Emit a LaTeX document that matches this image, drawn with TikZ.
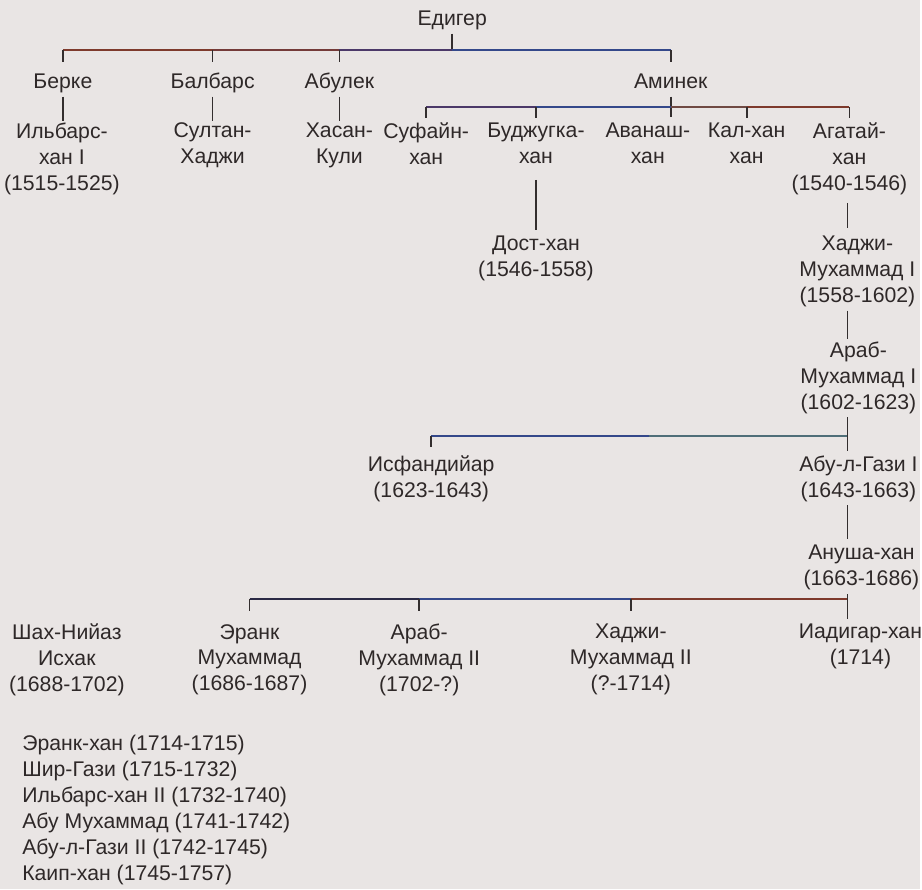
\documentclass[tikz,border=0pt]{standalone}
\usepackage{fontspec}
\setmainfont{Liberation Sans}
\usepackage{tikz}

\definecolor{paper}{HTML}{E9E5E4}
\definecolor{ink}{HTML}{2E2828}
\definecolor{lnGrey}{HTML}{332E2E}
\definecolor{lnBrown}{HTML}{7E3A2C}
\definecolor{lnPurple}{HTML}{4B3868}
\definecolor{lnBlue}{HTML}{34488A}
\definecolor{lnTeal}{HTML}{4F6E78}
\definecolor{lnNavy}{HTML}{2B2A45}

\tikzset{
  person/.style={align=center, inner sep=0pt, anchor=north, text=ink,
    execute at begin node=\strut, execute at end node=\strut},
  kin/.style={draw=#1, line width=1pt},
  kin/.default=lnGrey,
  tick/.style={kin, shorten >=#1},
  tick/.default=0.16cm
}

\begin{document}
\begin{tikzpicture}[font=\fontsize{12.1}{14.8}\selectfont]
        % paper
        \fill[paper] (0,0) rectangle (18.44,-17.82);

        % Edigei and his sons
        \node[person] (edg) at (9.06,-0.14) {Едигер};
        \node[person] (berke) at (1.26,-1.40) {Берке};
        \node[person] (balb) at (4.26,-1.40) {Балбарс};
        \node[person] (abul) at (6.80,-1.40) {Абулек};
        \node[person] (amin) at (13.44,-1.40) {Аминек};

        % grandsons
        \node[person] (ilb) at (1.24,-2.46) {Ильбарс-\\хан I\\(1515-1525)};
        \node[person] (sult) at (4.26,-2.46) {Султан-\\Хаджи};
        \node[person] (hasan) at (6.80,-2.46) {Хасан-\\Кули};
        \node[person] (suf) at (8.54,-2.46) {Суфайн-\\хан};
        \node[person] (budz) at (10.74,-2.46) {Буджугка-\\хан};
        \node[person] (avan) at (12.98,-2.46) {Аванаш-\\хан};
        \node[person] (kal) at (14.96,-2.46) {Кал-хан\\хан};
        \node[person] (agat) at (17.02,-2.46) {Агатай-\\хан\\(1540-1546)};

        % khans of Khiva
        \node[person] (dost) at (10.74,-4.72) {Дост-хан\\(1546-1558)};
        \node[person] (hadj1) at (17.18,-4.72) {Хаджи-\\Мухаммад I\\(1558-1602)};
        \node[person] (arab1) at (17.20,-6.84) {Араб-\\Мухаммад I\\(1602-1623)};
        \node[person] (isf) at (8.64,-9.12) {Исфандийар\\(1623-1643)};
        \node[person] (abul1) at (17.20,-9.12) {Абу-л-Гази I\\(1643-1663)};
        \node[person] (anush) at (17.26,-10.92) {Ануша-хан\\(1663-1686)};

        % last generation
        \node[person] (shah) at (1.34,-12.50) {Шах-Нийаз\\Исхак\\(1688-1702)};
        \node[person] (eranc) at (5.00,-12.50) {Эранк\\Мухаммад\\(1686-1687)};
        \node[person] (arab2) at (8.40,-12.50) {Араб-\\Мухаммад II\\(1702-?)};
        \node[person] (hadj2) at (12.64,-12.50) {Хаджи-\\Мухаммад II\\(?-1714)};
        \node[person] (iad) at (17.24,-12.50) {Иадигар-хан\\(1714)};

        % later khans
        \node[person, anchor=north west, align=left] (later) at (0.44,-14.72)
          {Эранк-хан (1714-1715)\\Шир-Гази (1715-1732)\\Ильбарс-хан II (1732-1740)\\Абу Мухаммад (1741-1742)\\Абу-л-Гази II (1742-1745)\\Каип-хан (1745-1757)};

        % bus levels
        \coordinate (bus1) at (0,-1.00);
        \coordinate (bus2) at (0,-2.14);
        \coordinate (bus3) at (0,-8.74);
        \coordinate (bus4) at (0,-12.00);
        \coordinate (axis) at (16.98,0);
        \coordinate (b3mid) at (13.00,-8.74);

        % Edigei -> sons
        \draw[kin] (edg.south) -- (edg.south |- bus1);
        \draw[kin=lnBrown] (berke.north |- bus1) -- (balb.north |- bus1);
        \draw[kin=lnBrown!80!lnPurple] (balb.north |- bus1) -- (abul.north |- bus1);
        \draw[kin=lnPurple] (abul.north |- bus1) -- (edg.south |- bus1);
        \draw[kin=lnBlue] (edg.south |- bus1) -- (amin.north |- bus1);
        \foreach \n in {berke,balb,abul,amin}
          \draw[tick] (\n.north |- bus1) -- (\n.north);

        % sons -> grandsons
        \foreach \a/\b in {berke/ilb,balb/sult,abul/hasan}
          \draw[kin, shorten >=0.04cm] (\a.south) -- (\a.south |- \b.north);

        % Aminek -> sons
        \draw[kin, shorten >=0.12cm] (amin.south) -- (amin.south |- avan.north);
        \draw[kin=lnPurple] (suf.north |- bus2) -- (budz.north |- bus2);
        \draw[kin=lnBlue] (budz.north |- bus2) -- (amin.south |- bus2);
        \draw[kin=lnBrown!70!lnTeal] (amin.south |- bus2) -- (kal.north |- bus2);
        \draw[kin=lnBrown] (kal.north |- bus2) -- (agat.north |- bus2);
        \foreach \n in {suf,budz,kal,agat}
          \draw[tick=0.1cm] (\n.north |- bus2) -- (\n.north);
        \draw[kin, shorten <=0.16cm, shorten >=0.12cm] (budz.south) -- (budz.south |- dost.north);

        % line of Agatai
        \draw[kin, shorten <=0.08cm, shorten >=0.16cm] (axis |- agat.south) -- (axis |- hadj1.north);
        \draw[kin, shorten >=0.04cm] (axis |- hadj1.south) -- (axis |- arab1.north);
        \draw[kin, shorten >=0.08cm] (axis |- arab1.south) -- (axis |- abul1.north);
        \draw[kin=lnBlue] (isf.north |- bus3) -- (b3mid);
        \draw[kin=lnTeal] (b3mid) -- (axis |- bus3);
        \draw[tick] (isf.north |- bus3) -- (isf.north);
        \draw[kin, shorten >=0.12cm] (axis |- abul1.south) -- (axis |- anush.north);
        \draw[kin, shorten >=0.1cm] (axis |- anush.south) -- (axis |- iad.north);

        % Anusha -> sons
        \draw[kin=lnNavy] (eranc.north |- bus4) -- (arab2.north |- bus4);
        \draw[kin=lnBlue] (arab2.north |- bus4) -- (hadj2.north |- bus4);
        \draw[kin=lnBrown] (hadj2.north |- bus4) -- (axis |- bus4);
        \foreach \n in {eranc,arab2,hadj2}
          \draw[tick=0.26cm] (\n.north |- bus4) -- (\n.north);
\end{tikzpicture}
\end{document}
